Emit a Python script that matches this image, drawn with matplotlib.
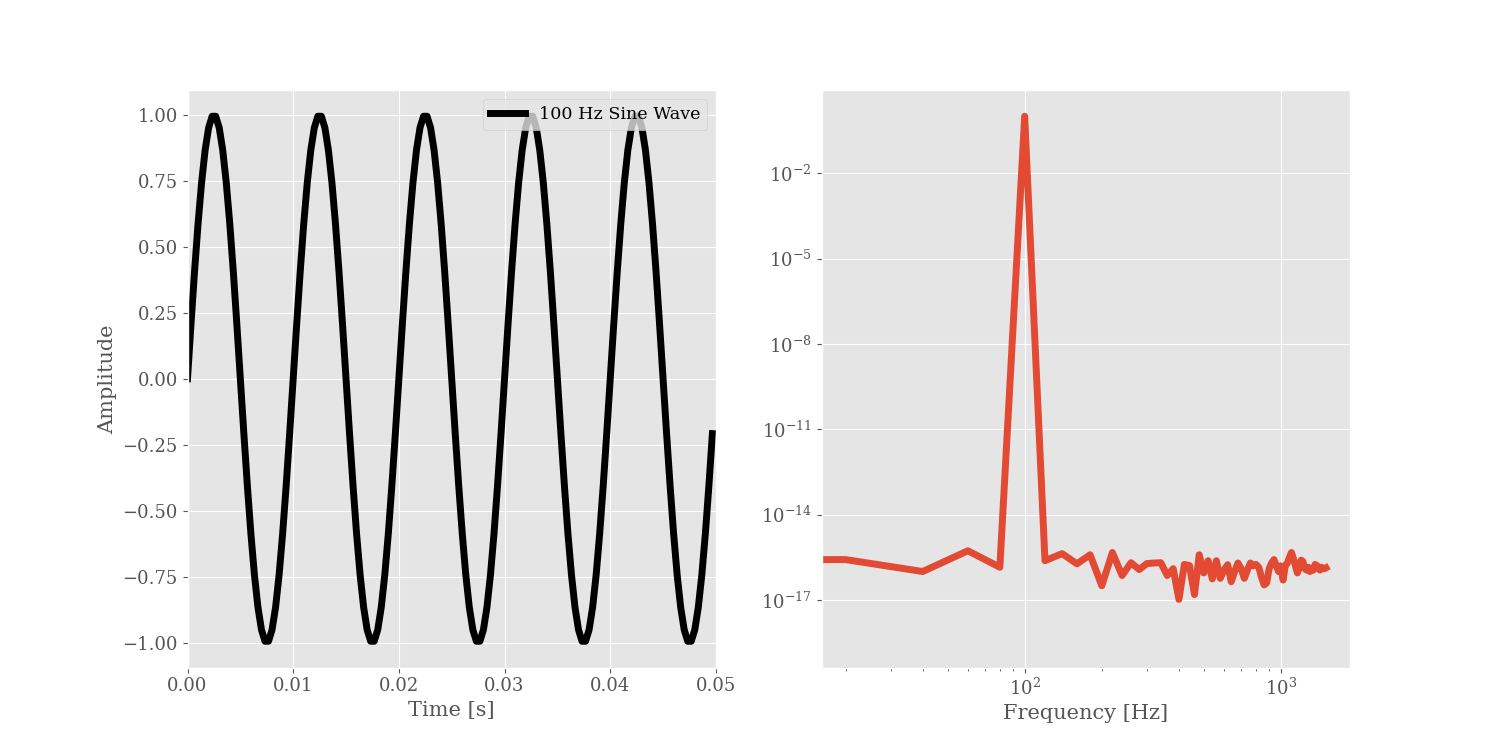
import numpy as np
import matplotlib
matplotlib.use('Agg')
import matplotlib.pyplot as plt

plt.style.use('ggplot')
plt.rcParams['font.family'] = ['DejaVu Serif']
plt.rcParams['font.size'] = 12.6
plt.rcParams['xtick.labelsize'] = 13
plt.rcParams['ytick.labelsize'] = 13
plt.rcParams['axes.labelsize'] = 15

# Semnalul de 100 Hz, eșantionat la 3000 Hz (150 de eșantioane, 0.05 s)
sample_rate = 3000
amplitude = [
    0.0, 0.2079, 0.4067, 0.5878, 0.7431, 0.866, 0.9511, 0.9945, 0.9945, 0.9511,
    0.866, 0.7431, 0.5878, 0.4067, 0.2079, 0.0, -0.2079, -0.4067, -0.5878, -0.7431,
    -0.866, -0.9511, -0.9945, -0.9945, -0.9511, -0.866, -0.7431, -0.5878, -0.4067, -0.2079,
    0.0, 0.2079, 0.4067, 0.5878, 0.7431, 0.866, 0.9511, 0.9945, 0.9945, 0.9511,
    0.866, 0.7431, 0.5878, 0.4067, 0.2079, 0.0, -0.2079, -0.4067, -0.5878, -0.7431,
    -0.866, -0.9511, -0.9945, -0.9945, -0.9511, -0.866, -0.7431, -0.5878, -0.4067, -0.2079,
    0.0, 0.2079, 0.4067, 0.5878, 0.7431, 0.866, 0.9511, 0.9945, 0.9945, 0.9511,
    0.866, 0.7431, 0.5878, 0.4067, 0.2079, 0.0, -0.2079, -0.4067, -0.5878, -0.7431,
    -0.866, -0.9511, -0.9945, -0.9945, -0.9511, -0.866, -0.7431, -0.5878, -0.4067, -0.2079,
    0.0, 0.2079, 0.4067, 0.5878, 0.7431, 0.866, 0.9511, 0.9945, 0.9945, 0.9511,
    0.866, 0.7431, 0.5878, 0.4067, 0.2079, 0.0, -0.2079, -0.4067, -0.5878, -0.7431,
    -0.866, -0.9511, -0.9945, -0.9945, -0.9511, -0.866, -0.7431, -0.5878, -0.4067, -0.2079,
    0.0, 0.2079, 0.4067, 0.5878, 0.7431, 0.866, 0.9511, 0.9945, 0.9945, 0.9511,
    0.866, 0.7431, 0.5878, 0.4067, 0.2079, 0.0, -0.2079, -0.4067, -0.5878, -0.7431,
    -0.866, -0.9511, -0.9945, -0.9945, -0.9511, -0.866, -0.7431, -0.5878, -0.4067, -0.2079,
]
time = np.arange(len(amplitude)) / sample_rate

# Spectrul (log10 al densității), frecvențe din 20 în 20 Hz, de la 0 la 1500 Hz
freq_step = 20
psd_log10 = [
    -18.45, -15.58, -16.00, -15.27, -15.85, 0.00, -15.62, -15.37, -15.73, -15.41,
    -16.50, -15.33, -16.14, -15.69, -15.93, -15.72, -15.70, -15.69, -16.14, -15.90,
    -16.98, -15.75, -15.79, -16.81, -15.41, -16.05, -15.62, -16.26, -15.62, -16.24,
    -15.95, -15.76, -16.36, -16.00, -15.70, -15.90, -16.24, -15.95, -15.70, -15.80,
    -15.75, -15.85, -16.20, -16.47, -16.40, -15.90, -15.70, -15.58, -15.80, -16.00,
    -15.80, -16.30, -15.80, -15.70, -15.50, -15.33, -15.55, -15.80, -16.05, -15.85,
    -15.60, -15.65, -15.90, -15.95, -15.85, -16.00, -15.90, -15.95, -15.75, -15.80,
    -15.82, -15.95, -15.85, -15.88, -15.90, -15.87,
]
freqs = np.arange(len(psd_log10)) * freq_step
psd = 10.0 ** np.array(psd_log10)

fig, (ax1, ax2) = plt.subplots(1, 2, figsize=(15, 7.5), dpi=100)

# Semnalul în timp
ax1.plot(time, amplitude, color='black', linewidth=5, label='100 Hz Sine Wave')
ax1.set_xlim(0, 0.05)
ax1.set_xlabel('Time [s]')
ax1.set_ylabel('Amplitude')
ax1.legend(loc='upper right')

# Spectrul de putere
ax2.loglog(freqs, psd, color='#E24A33', linewidth=5)
ax2.set_xlabel('Frequency [Hz]')

fig.savefig('out.png', dpi=100)
